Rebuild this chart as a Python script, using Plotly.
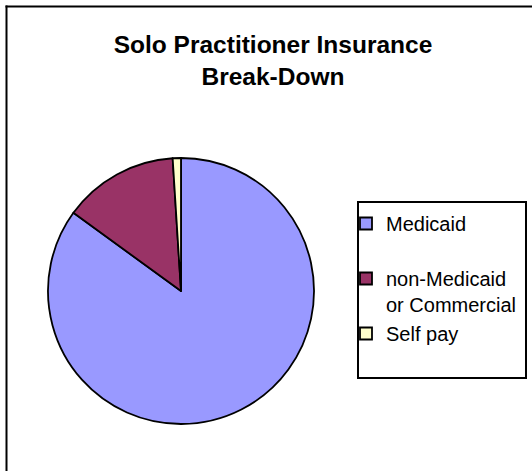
import plotly.graph_objects as go

labels = ["Medicaid", "non-Medicaid<br>or Commercial", "Self pay"]
values = [85, 14, 1]
colors = ["#9999FF", "#993366", "#FFFFCC"]
title_text = "Solo Practitioner Insurance<br>Break-Down"

W, H = 532, 471
cx, cy, r = 181, 291, 133

# extra blank line after "Medicaid" to space the legend like the original
legend_labels = [labels[0] + "<br> "] + labels[1:]

fig = go.Figure()
fig.add_trace(go.Pie(
    labels=legend_labels,
    values=values,
    sort=False,
    direction="clockwise",
    rotation=0,
    textinfo="none",
    hoverinfo="label+percent",
    marker=dict(colors=colors, line=dict(color="black", width=1.8)),
    domain=dict(x=[(cx - r) / W, (cx + r) / W], y=[1 - (cy + r) / H, 1 - (cy - r) / H]),
))

frame_x = 6.5 / W
frame_y = 1 - 6.5 / H

fig.update_layout(
    width=W, height=H,
    margin=dict(l=0, r=0, t=0, b=0, autoexpand=False),
    paper_bgcolor="white",
    plot_bgcolor="white",
    font=dict(family="Liberation Sans, Arial, sans-serif", color="black"),
    title=dict(
        text="<b>" + title_text + "</b>",
        x=273 / W, xanchor="center", xref="container",
        y=1 - 53 / H, yanchor="middle", yref="container",
        font=dict(size=24.5, family="Liberation Sans, Arial, sans-serif", color="black"),
    ),
    showlegend=True,
    legend=dict(
        x=346 / W, y=1 - 204 / H, xanchor="left", yanchor="top",
        xref="container", yref="container",
        borderwidth=0, bgcolor="rgba(0,0,0,0)",
        font=dict(size=20, family="Liberation Sans, Arial, sans-serif", color="black"),
        valign="top",
        itemwidth=30,
        traceorder="normal",
        entrywidth=140,
        entrywidthmode="pixels",
    ),
    shapes=[
        # outer chart frame (only top and left edges fall inside the view)
        dict(type="line", xref="paper", yref="paper",
             x0=frame_x - 1 / W, x1=1, y0=frame_y, y1=frame_y,
             line=dict(color="black", width=2), layer="above"),
        dict(type="line", xref="paper", yref="paper",
             x0=frame_x, x1=frame_x, y0=0, y1=frame_y + 1 / H,
             line=dict(color="black", width=2), layer="above"),
        # legend box
        dict(
            type="rect", xref="paper", yref="paper",
            x0=358 / W, x1=526 / W, y0=1 - 378 / H, y1=1 - 202 / H,
            line=dict(color="black", width=2), fillcolor="white", layer="below",
        ),
    ],
)

fig.write_html(
    "out.html",
    config={"displayModeBar": False},
    post_script=(
        "document.documentElement.style.margin='0';"
        "document.documentElement.style.overflow='hidden';"
        "document.body.style.margin='0';"
        "document.body.style.padding='0';"
        "document.body.style.overflow='hidden';"
    ),
)
